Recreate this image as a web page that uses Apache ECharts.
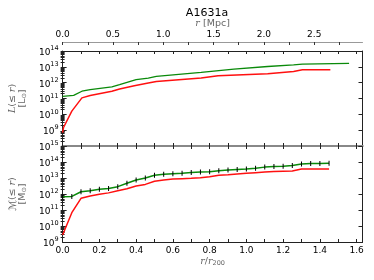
<!DOCTYPE html>
<html><head><meta charset="utf-8">
<script src="https://cdn.jsdelivr.net/npm/echarts@6/dist/echarts.min.js"></script>
<style>html,body{margin:0;padding:0;background:#fff}#c{width:374px;height:280px}</style>
</head><body><div id="c"></div>
<script>
// ---- data (x in r/r200, y as log10 of value) ----
const topGreenR = [0, 0.06, 0.105, 0.15, 0.268, 0.31, 0.40, 0.466, 0.51, 0.754, 0.932, 1.116, 1.257, 1.305, 1.559];
const topGreenLogL = [11.14, 11.2, 11.46, 11.56, 11.73, 11.87, 12.19, 12.29, 12.4, 12.65, 12.86, 13.02, 13.12, 13.17, 13.22];
const topRedR = [0, 0.005, 0.05, 0.105, 0.15, 0.268, 0.31, 0.39, 0.466, 0.51, 0.754, 0.846, 1.116, 1.257, 1.305, 1.457];
const topRedLogL = [8.84, 9.17, 10.2, 11.04, 11.19, 11.46, 11.6, 11.81, 11.98, 12.08, 12.29, 12.44, 12.56, 12.71, 12.81, 12.81];
const botR = [0, 0.05, 0.1, 0.15, 0.2, 0.25, 0.3, 0.35, 0.4, 0.45, 0.5, 0.55, 0.6, 0.65, 0.7, 0.75, 0.8, 0.85, 0.9, 0.95, 1.0, 1.05, 1.1, 1.15, 1.2, 1.25, 1.3, 1.35, 1.4, 1.45];
const botGreenLogM = [11.83, 11.85, 12.14, 12.21, 12.29, 12.35, 12.46, 12.67, 12.875, 13.0, 13.17, 13.23, 13.27, 13.3, 13.34, 13.37, 13.39, 13.46, 13.5, 13.53, 13.56, 13.61, 13.68, 13.72, 13.74, 13.78, 13.88, 13.9, 13.9, 13.92];
const botRedLogM = [9.44, 10.83, 11.73, 11.87, 11.98, 12.07, 12.2, 12.33, 12.5, 12.6, 12.8, 12.87, 12.93, 12.96, 12.98, 13.02, 13.08, 13.17, 13.2, 13.25, 13.29, 13.33, 13.37, 13.4, 13.42, 13.44, 13.56, 13.56, 13.56, 13.57];
// ---- tick labels ----
const rTicks = [0, 0.1, 0.2, 0.3, 0.4, 0.5, 0.6, 0.7, 0.8, 0.9, 1.0, 1.1, 1.2, 1.3, 1.4, 1.5, 1.6];
const rLabels = [0, 0.2, 0.4, 0.6, 0.8, 1.0, 1.2, 1.4, 1.6];
const mpcTicks = [0, 0.25, 0.5, 0.75, 1.0, 1.25, 1.5, 1.75, 2.0, 2.25, 2.5, 2.75];
const mpcLabels = [0, 0.5, 1.0, 1.5, 2.0, 2.5];
const topExpTicks = [8, 9, 10, 11, 12, 13, 14];
const topExpLabels = [9, 10, 11, 12, 13, 14];
const botExpTicks = [9, 10, 11, 12, 13, 14, 15];
const botExpLabels = [9, 10, 11, 12, 13, 14, 15];

const xMax = 1.632, mpcMax = 2.98;
const FONT = 'DejaVu Sans';
function minors(lo, hi) {
  const out = [];
  for (let n = lo; n < hi; n++) for (let k = 2; k <= 9; k++) out.push(n + Math.log10(k));
  return out;
}
const pairs = (xs, ys) => xs.map((x, i) => [x, ys[i]]);

const supRich = {
  b: {fontSize: 9, fontFamily: FONT, color: '#000', lineHeight: 12, verticalAlign: 'bottom'},
  s: {fontSize: 6.5, fontFamily: FONT, color: '#000', lineHeight: 12, verticalAlign: 'top'}
};
const nameRich = {
  i: {fontFamily: 'DejaVu Serif', fontStyle: 'italic', fontSize: 9.5, color: '#666'},
  c: {fontFamily: 'DejaVu Sans', fontSize: 10, color: '#666'},
  n: {fontFamily: FONT, fontSize: 9.5, color: '#666'},
  o: {fontFamily: FONT, fontSize: 6.5, color: '#666', verticalAlign: 'bottom'}
};

function xAxisR(grid, pos, lineColor, lineWidth, labels) {
  return {
    type: 'value', gridIndex: grid, position: pos, min: 0, max: xMax,
    axisLine: {show: true, onZero: false, lineStyle: {color: lineColor, width: lineWidth}},
    axisTick: {show: true, inside: true, length: 3, customValues: rTicks, lineStyle: {color: '#222', width: 1}},
    axisLabel: labels ? {show: true, customValues: rLabels, formatter: v => v.toFixed(1), fontSize: 9, fontFamily: FONT, color: '#000', margin: 4} : {show: false},
    splitLine: {show: false}
  };
}
function yAxes(grid, min, max, ticks, labels, name) {
  const base = {type: 'value', gridIndex: grid, min: min, max: max, splitLine: {show: false}};
  return [
    Object.assign({}, base, {
      position: 'left',
      axisLine: {show: true, onZero: false, lineStyle: {color: '#222', width: 1}},
      axisTick: {show: true, inside: true, length: 4, customValues: ticks, lineStyle: {color: '#222'}},
      axisLabel: {show: true, customValues: labels, formatter: v => '{b|10}{s|' + v + '}', rich: supRich, margin: 4},
      name: name, nameLocation: 'middle', nameRotate: 90, nameGap: 27,
      nameTextStyle: {rich: nameRich, lineHeight: 10, align: 'center'}
    }),
    Object.assign({}, base, {
      position: 'left', axisLine: {show: false},
      axisTick: {show: true, inside: true, length: 2, customValues: minors(min, max), lineStyle: {color: '#222'}},
      axisLabel: {show: false}
    }),
    Object.assign({}, base, {
      position: 'right',
      axisLine: {show: true, onZero: false, lineStyle: {color: '#222', width: 1}},
      axisTick: {show: true, inside: true, length: 4, customValues: ticks, lineStyle: {color: '#222'}},
      axisLabel: {show: false}
    }),
    Object.assign({}, base, {
      position: 'right', axisLine: {show: false},
      axisTick: {show: true, inside: true, length: 2, customValues: minors(min, max), lineStyle: {color: '#222'}},
      axisLabel: {show: false}
    })
  ];
}

const chart = echarts.init(document.getElementById('c'), null, {renderer: 'canvas'});
const bottomX = xAxisR(1, 'bottom', '#222', 1, true);
bottomX.name = '{i|r}{n|/}{i|r}{o|200}';
bottomX.nameLocation = 'middle';
bottomX.nameGap = 15;
bottomX.nameTextStyle = {rich: nameRich};

chart.setOption({
  animation: false,
  backgroundColor: '#fff',
  grid: [
    {left: 60.5, right: 11.5, top: 51, height: 95},
    {left: 60.5, right: 11.5, top: 146, height: 96}
  ],
  graphic: [{
    type: 'text', x: 207, y: 13,
    style: {text: 'A1631a', textAlign: 'center', textVerticalAlign: 'middle', fontSize: 11, fontFamily: FONT, fill: '#000'}
  }],
  xAxis: [
    xAxisR(0, 'bottom', '#888', 2, false),
    xAxisR(0, 'top', '#222', 1, false),
    {
      type: 'value', gridIndex: 0, position: 'top', offset: 9, min: 0, max: mpcMax,
      axisLine: {show: true, onZero: false, lineStyle: {color: '#999', width: 1}},
      axisTick: {show: true, inside: true, length: 3, customValues: mpcTicks, lineStyle: {color: '#333'}},
      axisLabel: {show: true, customValues: mpcLabels, formatter: v => v.toFixed(1), fontSize: 9, fontFamily: FONT, color: '#000', margin: 3},
      splitLine: {show: false},
      name: '{i|r} {n|[Mpc]}', nameLocation: 'middle', nameGap: 9,
      nameTextStyle: {rich: nameRich}
    },
    bottomX,
    xAxisR(1, 'top', '#888', 2, false)
  ],
  yAxis: [].concat(
    yAxes(0, 8, 14, topExpTicks, topExpLabels, '{i|L}{n|(≤ }{i|r}{n|)}\n{n|[L}{o|⊙}{n|]}'),
    yAxes(1, 9, 15, botExpTicks, botExpLabels, '{c|ℳ}{n|(≤ }{i|r}{n|)}\n{n|[M}{o|⊙}{n|]}')
  ),
  series: [
    {type: 'line', xAxisIndex: 0, yAxisIndex: 0, data: pairs(topGreenR, topGreenLogL), showSymbol: false, symbol: 'none',
     lineStyle: {color: '#0a8a0a', width: 1.3}, z: 3},
    {type: 'line', xAxisIndex: 0, yAxisIndex: 0, data: pairs(topRedR, topRedLogL), showSymbol: false, symbol: 'none',
     lineStyle: {color: '#ff1010', width: 1.5}, z: 3},
    {type: 'line', xAxisIndex: 3, yAxisIndex: 4, data: pairs(botR, botRedLogM), symbol: 'none',
     lineStyle: {color: '#ff1010', width: 1.5}, z: 3},
    {type: 'line', xAxisIndex: 3, yAxisIndex: 4, data: pairs(botR, botGreenLogM), symbol: 'rect', symbolSize: [1, 5],
     itemStyle: {color: '#000'}, lineStyle: {color: '#0a8a0a', width: 1.5}, z: 4}
  ]
});
</script></body></html>
